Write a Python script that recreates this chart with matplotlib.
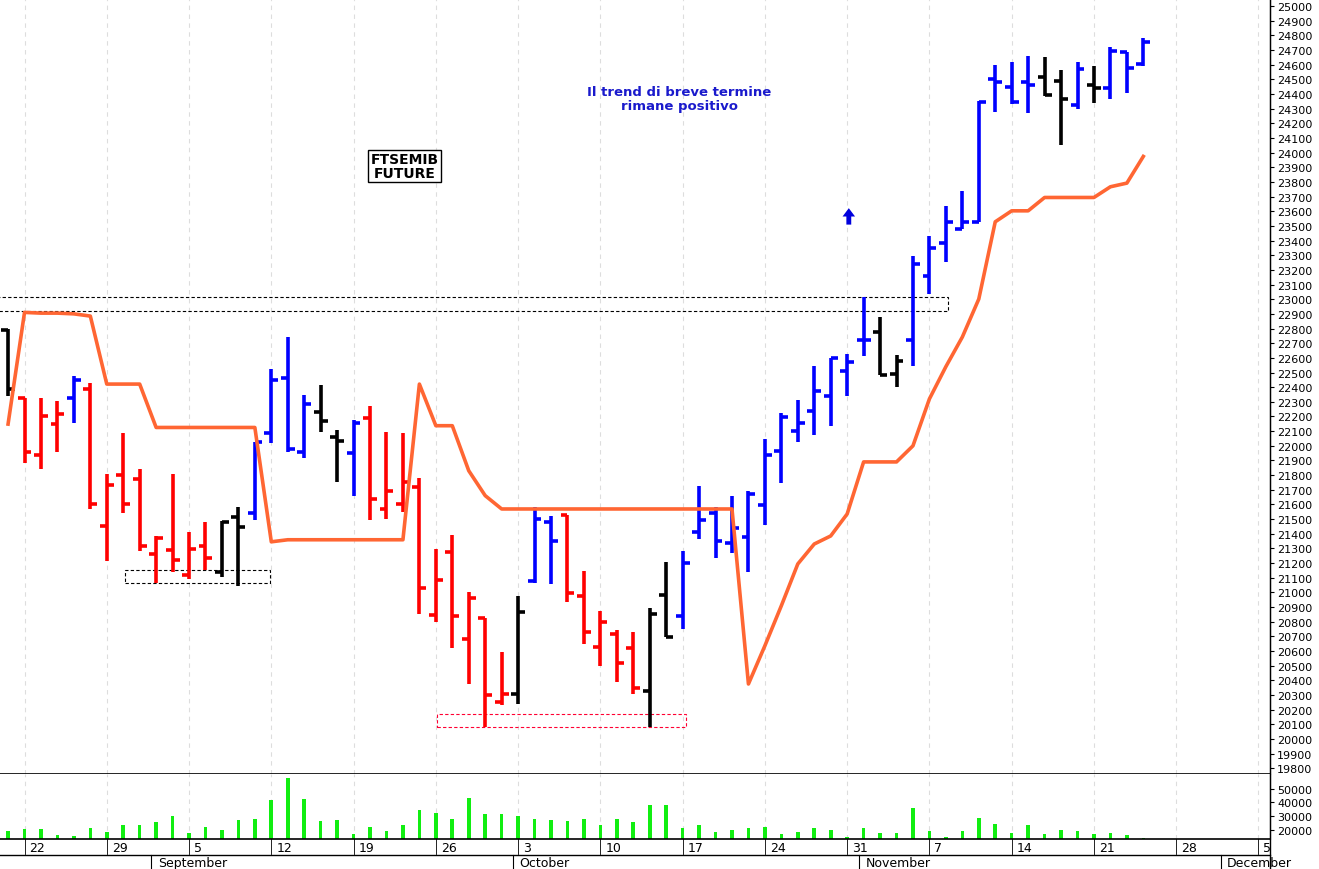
import matplotlib
matplotlib.use("Agg")
import matplotlib.pyplot as plt
import matplotlib.transforms as mtransforms
from matplotlib.patches import Rectangle

plt.rcParams["font.family"] = ["Liberation Sans Narrow", "DejaVu Sans"]

# ---------------------------------------------------------------------------
# Data (trading day index 0 = 19 Aug 2016 ... 69 = 24 Nov 2016)
# ---------------------------------------------------------------------------
opens = [22790, 22323, 21939, 22148, 22323, 22387, 21455, 21803, 21773, 21261,
         21291, 21118, 21314, 21141, 21512, 21541, 22087, 22460, 21960, 22232,
         22062, 21948, 22187, 21568, 21602, 21716, 20845, 21273, 20682, 20823,
         20250, 20307, 21080, 21482, 21528, 20973, 20625, 20716, 20618, 20329,
         20982, 20836, 21409, 21541, 21334, 21375, 21596, 21967, 22103, 22239,
         22337, 22512, 22721, 22773, 22489, 22721, 23160, 23383, 23478, 23528,
         24502, 24445, 24484, 24513, 24490, 24324, 24461, 24438, 24684, 24604]
highs = [22800, 22323, 22323, 22307, 22478, 22428, 21807, 22085, 21841, 21382,
         21807, 21409, 21482, 21489, 21580, 22028, 22523, 22739, 22346, 22414,
         22110, 22178, 22273, 22096, 22085, 21780, 21296, 21394, 21005, 20823,
         20591, 20978, 21580, 21519, 21528, 21148, 20870, 20746, 20732, 20891,
         21209, 21284, 21728, 21580, 21660, 21694, 22046, 22221, 22314, 22542,
         22596, 22626, 23012, 22876, 22619, 23296, 23428, 23633, 23740, 24354,
         24597, 24615, 24656, 24649, 24565, 24615, 24593, 24718, 24688, 24779]
lows = [22340, 21882, 21841, 21955, 22155, 21568, 21216, 21541, 21284, 21064,
        21136, 21091, 21154, 21107, 21045, 21493, 22019, 21955, 21914, 22096,
        21755, 21659, 21493, 21500, 21550, 20852, 20800, 20623, 20375, 20079,
        20232, 20238, 21064, 21057, 20932, 20648, 20500, 20391, 20307, 20079,
        20693, 20750, 21364, 21234, 21268, 21141, 21460, 21746, 22023, 22073,
        22132, 22341, 22614, 22482, 22398, 22546, 23035, 23256, 23478, 23524,
        24274, 24331, 24270, 24383, 24051, 24297, 24338, 24365, 24406, 24593]
closes = [22390, 21955, 22205, 22216, 22448, 21602, 21732, 21602, 21314, 21368,
          21220, 21296, 21234, 21482, 21443, 22023, 22448, 21978, 22285, 22171,
          22035, 22155, 21637, 21689, 21755, 21027, 21087, 20836, 20959, 20300,
          20307, 20864, 21500, 21353, 20996, 20727, 20795, 20518, 20345, 20852,
          20693, 21200, 21496, 21353, 21437, 21671, 21937, 22194, 22155, 22375,
          22596, 22573, 22721, 22482, 22580, 23240, 23347, 23524, 23528, 24347,
          24484, 24342, 24461, 24392, 24365, 24570, 24438, 24695, 24574, 24756]
bar_colors = (["k"] + ["r"] * 3 + ["b"] + ["r"] * 8 + ["k"] * 2 + ["b"] * 4
              + ["k"] * 2 + ["b"] + ["r"] * 9 + ["k"] + ["b"] * 2 + ["r"] * 5
              + ["k"] * 2 + ["b"] * 12 + ["k"] * 2 + ["b"] * 8 + ["k"] * 2
              + ["b", "k", "b", "b", "b"])
stop_line = [22148, 22910, 22905, 22905, 22900, 22885, 22421, 22421, 22421, 22125,
             22125, 22125, 22125, 22125, 22125, 22125, 21345, 21359, 21359, 21359,
             21359, 21359, 21359, 21359, 21359, 22421, 22137, 22137, 21830, 21660,
             21569, 21569, 21569, 21569, 21569, 21569, 21569, 21569, 21569, 21569,
             21569, 21569, 21569, 21569, 21569, 20375, 20636, 20909, 21194, 21330,
             21385, 21535, 21890, 21890, 21890, 22000, 22320, 22540, 22742, 23001,
             23528, 23603, 23603, 23694, 23694, 23694, 23694, 23767, 23792, 23974]
volumes = [19000, 20260, 20500, 16100, 15100, 21300, 18200, 23400, 23400, 25400,
           30100, 17400, 21500, 19500, 27200, 27800, 41500, 58000, 42600, 26000,
           27200, 16900, 21500, 18700, 23400, 34500, 32400, 27800, 43600, 31600,
           31600, 30300, 27500, 27000, 26000, 27500, 23400, 27500, 25200, 38100,
           38100, 20800, 23400, 18400, 20000, 20800, 21500, 16900, 18200, 21300,
           19500, 14300, 21300, 17700, 17700, 35800, 19000, 14300, 18700, 28500,
           24100, 17400, 23400, 16900, 19500, 19200, 16400, 17700, 15600, 13800]

week_idx = [1, 6, 11, 16, 21, 26, 31, 36, 41, 46, 51, 56, 61, 66, 71, 76]
week_labels = ["22", "29", "5", "12", "19", "26", "3", "10", "17", "24", "31",
               "7", "14", "21", "28", "5"]
month_idx = [9, 31, 52, 74]
month_labels = ["September", "October", "November", "December"]

# ---------------------------------------------------------------------------
W, H = 1319, 870
fig = plt.figure(figsize=(W / 100, H / 100), dpi=100)
ax = fig.add_axes([0, 1 - 775 / H, 1270 / W, 775 / H])
axv = fig.add_axes([0, 1 - 840 / H, 1270 / W, 65 / H], sharex=ax)

x = list(range(len(opens)))
tick = 0.42
ax.vlines(x, lows, highs, colors=bar_colors, linewidth=2.6)
ax.hlines(opens, [i - tick for i in x], x, colors=bar_colors, linewidth=2.6)
ax.hlines(closes, x, [i + tick for i in x], colors=bar_colors, linewidth=2.6)
ax.plot(x, stop_line, color="#ff6633", linewidth=2.6, zorder=3)

ax.set_xlim(-0.49, 76.7)
ax.set_ylim(19761, 25048)
for wi in week_idx:
    ax.axvline(wi, color="#dddddd", linestyle=(0, (4, 4)), linewidth=0.8, zorder=0)
    axv.axvline(wi, color="#dddddd", linestyle=(0, (4, 4)), linewidth=0.8, zorder=0)

# dashed boxes
ax.add_patch(Rectangle((-0.6, 22920), 57.7, 95, fill=False, ec="k", ls=(0, (3, 2)), lw=0.8))
ax.add_patch(Rectangle((7.1, 21064), 8.8, 89, fill=False, ec="k", ls=(0, (3, 2)), lw=0.8))
ax.add_patch(Rectangle((26.1, 20082), 15.1, 88, fill=False, ec="#ff0033", ls=(0, (3, 2)), lw=0.8))

ax.annotate("", xy=(51.1, 23640), xytext=(51.1, 23490),
            arrowprops=dict(arrowstyle="simple,head_width=0.9,head_length=0.6,tail_width=0.35",
                            color="#0000dd", lw=0))
ax.text(40.8, 24370, "Il trend di breve termine\nrimane positivo", color="#1a1acc",
        fontsize=9.5, fontweight="bold", ha="center", va="center", linespacing=1.1,
        family="DejaVu Sans")
ax.text(24.1, 23910, "FTSEMIB\nFUTURE", color="k", fontsize=10, fontweight="bold",
        ha="center", va="center", linespacing=1.0, family="DejaVu Sans",
        bbox=dict(boxstyle="square,pad=0.15", fc="white", ec="k", lw=1))

ax.yaxis.tick_right()
ax.set_yticks(range(19800, 25001, 100))
ax.tick_params(axis="y", labelsize=8, length=3, pad=2)
ax.tick_params(axis="x", bottom=False, labelbottom=False)

axv.bar(x, volumes, width=0.22, color="#11ee11")
axv.set_ylim(13000, 61000)
axv.yaxis.tick_right()
axv.set_yticks([20000, 30000, 40000, 50000])
axv.tick_params(axis="y", labelsize=8, length=3, pad=2)
axv.set_xticks(week_idx)
axv.tick_params(axis="x", bottom=False, labelbottom=False)

for a in (ax, axv):
    for s in ("left", "top"):
        a.spines[s].set_visible(False)
    a.spines["bottom"].set_linewidth(1.2)

trans = mtransforms.blended_transform_factory(axv.transData, fig.transFigure)
for wi, lab in zip(week_idx, week_labels):
    fig.text(wi + 0.3, 1 - 849 / H, lab, transform=trans, fontsize=9, va="center")
    fig.add_artist(plt.Line2D([wi, wi], [1 - 855 / H, 1 - 840 / H], transform=trans,
                              color="k", lw=0.6))
for mi, lab in zip(month_idx, month_labels):
    fig.text(mi + 0.1, 1 - 864 / H, lab, transform=trans, fontsize=9, va="center")
    fig.add_artist(plt.Line2D([mi - 0.3, mi - 0.3], [0, 1 - 856 / H], transform=trans,
                              color="k", lw=0.8))
fig.add_artist(plt.Line2D([0, 1270 / W], [1 - 856 / H, 1 - 856 / H], color="k", lw=1))
fig.add_artist(plt.Line2D([1270 / W, 1270 / W], [0, 1], color="k", lw=1))

fig.savefig("out.png", dpi=100)
